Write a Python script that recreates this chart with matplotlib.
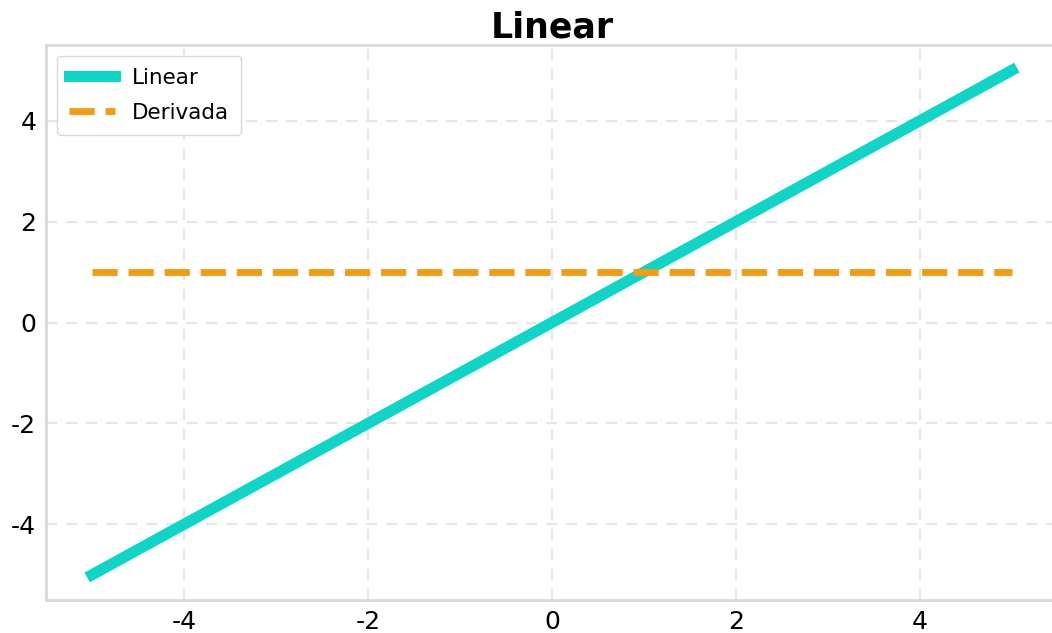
import matplotlib
matplotlib.use('Agg')
from matplotlib import pyplot as plt

# data
x = [-5, 5]
linear = [-5, 5]
derivada = [1, 1]
xticks = [-4, -2, 0, 2, 4]
yticks = [-4, -2, 0, 2, 4]

plt.rcParams['axes.unicode_minus'] = False

fig = plt.figure(figsize=(10.52, 6.33), dpi=100)
ax = fig.add_axes([46/1052, 33/633, 1012/1052, 555/633])

ax.plot(x, linear, color='#0fd5c6', lw=8, label='Linear', zorder=3)
ax.plot(x, derivada, color='#f39c12', lw=4.9, ls='--', label='Derivada', zorder=3)

ax.set_xlim(-5.5, 5.5)
ax.set_ylim(-5.5, 5.5)
ax.set_xticks(xticks)
ax.set_yticks(yticks)
ax.tick_params(length=0, labelsize=18, pad=7)
ax.grid(True, ls=(0, (5, 4)), color='#e6e6e6', lw=1.6)
for s in ax.spines.values():
    s.set_color('#d5d9e0')
    s.set_linewidth(2)
ax.spines['right'].set_visible(False)

ax.set_title('Linear', fontsize=25, fontweight='bold', pad=5)
ax.legend(loc='upper left', fontsize=15.5, handlelength=2.14, edgecolor='#d5d9e0',
          framealpha=1, borderaxespad=0.5, labelspacing=0.7, borderpad=0.55)

fig.savefig('out.png', dpi=100)
